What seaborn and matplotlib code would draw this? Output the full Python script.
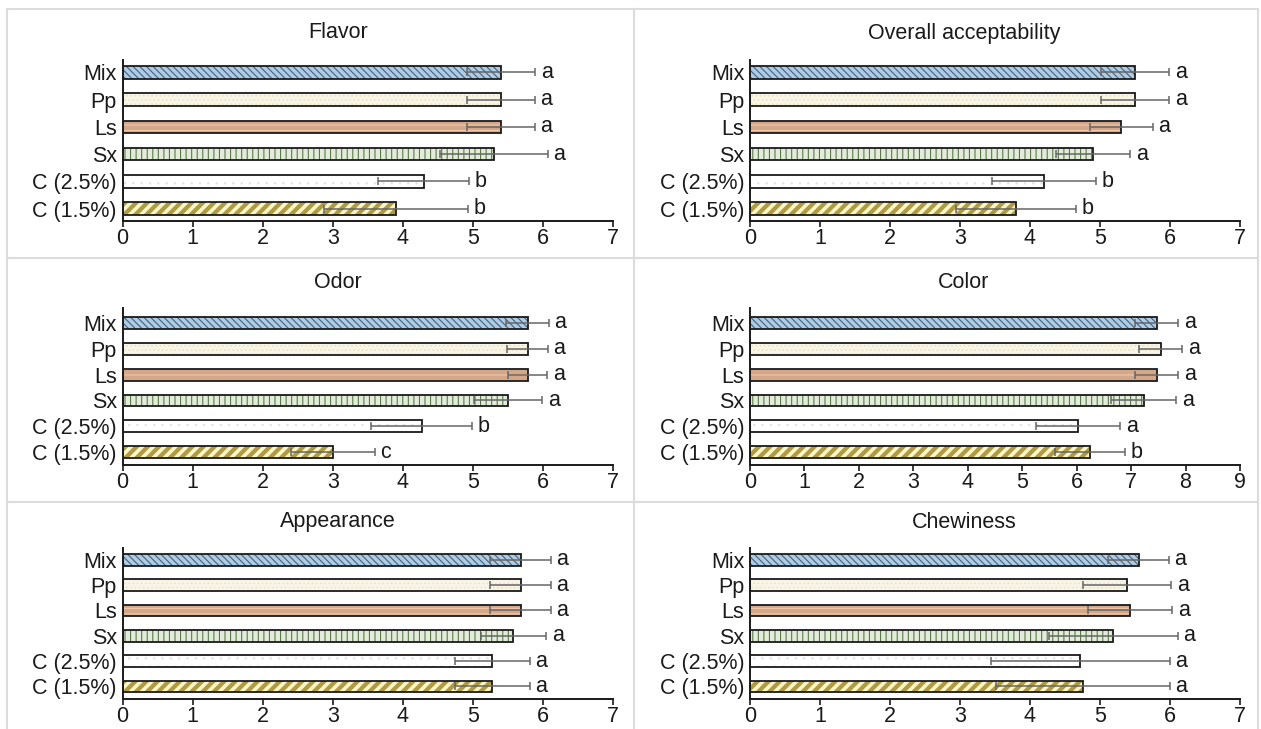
import matplotlib
matplotlib.use("Agg")

import matplotlib.pyplot as plt
import seaborn as sns
import pandas as pd
import numpy as np
from matplotlib.lines import Line2D

# =========================================================
# DATA
# =========================================================

samples = ["Mix", "Pp", "Ls", "Sx", "C (2.5%)", "C (1.5%)"]

flavor_mean = [5.4, 5.4, 5.4, 5.3, 4.3, 3.9]
flavor_sd = [0.49, 0.48, 0.48, 0.77, 0.65, 1.03]
flavor_sig = ["a", "a", "a", "a", "b", "b"]

overall_mean = [5.5, 5.5, 5.3, 4.9, 4.2, 3.8]
overall_sd = [0.49, 0.49, 0.45, 0.53, 0.74, 0.86]
overall_sig = ["a", "a", "a", "a", "b", "b"]

odor_mean = [5.78, 5.78, 5.78, 5.5, 4.27, 3.0]
odor_sd = [0.3, 0.29, 0.28, 0.49, 0.72, 0.6]
odor_sig = ["a", "a", "a", "a", "b", "c"]

color_mean = [7.47, 7.54, 7.47, 7.23, 6.03, 6.25]
color_sd = [0.4, 0.4, 0.4, 0.6, 0.77, 0.64]
color_sig = ["a", "a", "a", "a", "a", "b"]

appearance_mean = [5.68, 5.68, 5.68, 5.58, 5.28, 5.28]
appearance_sd = [0.43, 0.43, 0.43, 0.47, 0.53, 0.53]
appearance_sig = ["a", "a", "a", "a", "a", "a"]

chewiness_mean = [5.55, 5.39, 5.43, 5.19, 4.72, 4.76]
chewiness_sd = [0.43, 0.63, 0.6, 0.92, 1.28, 1.24]
chewiness_sig = ["a", "a", "a", "a", "a", "a"]

# fill colour, hatch pattern, hatch colour, hatch width
bar_styles = {
    "Mix": ("#a9cdea", "\\\\\\\\\\", "#3f6384", 0.8),
    "Pp": ("#fbf7e4", "....", "#ebe2bd", 0.6),
    "Ls": ("#e0a47c", "---", "#f2c9aa", 0.8),
    "Sx": ("#e3efd8", "|||", "#5a7a4a", 0.8),
    "C (2.5%)": ("#ffffff", "..", "#e4e4e4", 0.6),
    "C (1.5%)": ("#c2a633", "///", "#fdf6c6", 2.6),
}

FS = 15.5

# =========================================================
# STYLE
# =========================================================

sns.set_style("white")
plt.rcParams["font.family"] = ["Liberation Sans", "DejaVu Sans"]

W, H = 1261, 729
fig = plt.figure(figsize=(W / 100, H / 100), dpi=100)

# panel: (title, mean, sd, letters, xmax, col, row)
panels = [
    ("Flavor", flavor_mean, flavor_sd, flavor_sig, 7, 0, 0),
    ("Overall acceptability", overall_mean, overall_sd, overall_sig, 7, 1, 0),
    ("Odor", odor_mean, odor_sd, odor_sig, 7, 0, 1),
    ("Color", color_mean, color_sd, color_sig, 9, 1, 1),
    ("Appearance", appearance_mean, appearance_sd, appearance_sig, 7, 0, 2),
    ("Chewiness", chewiness_mean, chewiness_sd, chewiness_sig, 7, 1, 2),
]

col_x = [(122.5, 613), (750, 1240)]
row_y = [(60, 221, -0.45, 5.45, 33), (308, 465, -0.58, 5.5, 283), (548, 699, -0.47, 5.5, 522)]
title_x = [338, 964]

for title, mean, sd, sig, xmax, col, row in panels:

    x0, x1 = col_x[col]
    top, bottom, ytop, ybot, ty = row_y[row]

    ax = fig.add_axes([
        x0 / W,
        1 - bottom / H,
        (x1 - x0) / W,
        (bottom - top) / H
    ])

    df = pd.DataFrame({"sample": samples, "score": mean})

    sns.barplot(
        data=df,
        x="score",
        y="sample",
        hue="sample",
        palette={s: bar_styles[s][0] for s in samples},
        orient="h",
        width=0.46,
        linewidth=0,
        legend=False,
        ax=ax
    )

    # hatching
    for p in ax.patches:
        idx = int(round(p.get_y() + p.get_height() / 2))
        fc, hatch, hc, hlw = bar_styles[samples[idx]]
        p.set_hatch(hatch)
        p.set_edgecolor(hc)
        p.set_linewidth(0)
        if hasattr(p, "set_hatch_linewidth"):
            p.set_hatch_linewidth(hlw)

    # black outline
    sns.barplot(
        data=df,
        x="score",
        y="sample",
        orient="h",
        width=0.46,
        fill=False,
        color="black",
        linewidth=1.3,
        ax=ax
    )
    for p in ax.patches[len(samples):]:
        p.set_edgecolor("#1a1a1a")

    ypos = np.arange(len(samples))

    ax.errorbar(
        mean,
        ypos,
        xerr=sd,
        fmt="none",
        ecolor="#666666",
        elinewidth=1.1,
        capsize=3,
        capthick=1.1,
        zorder=5
    )

    for m, s, y, letter in zip(mean, sd, ypos, sig):
        ax.annotate(
            letter,
            (m + s, y),
            xytext=(4, 0),
            textcoords="offset points",
            ha="left",
            va="center",
            fontsize=FS,
            color="#1a1a1a"
        )

    ax.set_xlim(0, xmax)
    ax.set_ylim(ybot, ytop)
    ax.set_xticks(range(0, xmax + 1))
    ax.set_xlabel("")
    ax.set_ylabel("")

    sns.despine(ax=ax)
    for side in ["left", "bottom"]:
        ax.spines[side].set_color("#1a1a1a")
        ax.spines[side].set_linewidth(1.4)

    ax.tick_params(axis="x", length=4, width=1.2, color="#1a1a1a",
                   labelsize=FS, pad=1, bottom=True, direction="out")
    ax.tick_params(axis="y", length=0, labelsize=FS, pad=4)
    for lab in ax.get_xticklabels() + ax.get_yticklabels():
        lab.set_color("#1a1a1a")

    fig.text(
        title_x[col] / W,
        1 - ty / H,
        title,
        ha="center",
        va="center",
        fontsize=FS,
        color="#1a1a1a"
    )

# =========================================================
# PANEL FRAME
# =========================================================

frame_color = "#dcdcdc"
frame = [
    ((7, 7), (9, 729)),
    ((1258, 1258), (9, 729)),
    ((634, 634), (9, 729)),
    ((7, 1258), (9, 9)),
    ((7, 1258), (258, 258)),
    ((7, 1258), (502, 502)),
]
for xs, ys in frame:
    fig.add_artist(Line2D(
        [x / W for x in xs],
        [1 - y / H for y in ys],
        color=frame_color,
        linewidth=1.5
    ))

plt.savefig("out.png", dpi=100)
plt.close()
